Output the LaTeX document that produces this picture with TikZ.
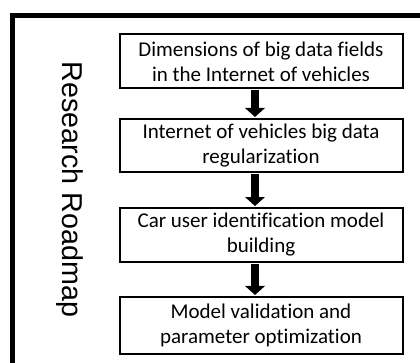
\documentclass[tikz,border=0pt]{standalone}
\usepackage{fontspec}
\setmainfont[Ligatures=NoCommon]{Carlito}
\newfontfamily\titlefont{Liberation Sans}
\usetikzlibrary{arrows.meta}
\begin{document}
\begin{tikzpicture}[x=1pt,y=-1pt,
  stepbox/.style={draw=black, line width=2pt, fill=white, minimum width=283pt,
    align=center, inner sep=0pt, font=\fontsize{21}{25}\selectfont},
  flowarrow/.style={line width=8pt, -{Triangle[width=20pt,length=9pt,line width=0pt]}},
  frameline/.style={line width=5pt, line join=miter}]
\useasboundingbox (0,0) rectangle (420,362);
\clip (0,0) rectangle (420,362);
\fill[white] (0,0) rectangle (420,362);
\draw[frameline] (12.5,400) -- (12.5,15.5) -- (440,15.5);
\node[font=\titlefont\fontsize{28.7}{34}\selectfont, rotate=-90, anchor=base] (title) at (62,189.5) {Research Roadmap};
\node[stepbox, minimum height=54pt] (b1) at (261,61.3) {Dimensions of big data fields\\in the Internet of vehicles};
\node[stepbox, minimum height=53.5pt] (b2) at (261,145.7) {Internet of vehicles big data\\regularization};
\node[stepbox, minimum height=54pt] (b3) at (261,235) {Car user identification model\\building};
\node[stepbox, minimum height=57.5pt] (b4) at (261,325.7) {Model validation and\\parameter optimization};
\draw[flowarrow] ([xshift=-6pt,yshift=-1pt]b1.south) -- ([xshift=-6pt,yshift=1pt]b2.north);
\draw[flowarrow] ([xshift=-6pt,yshift=-1pt]b2.south) -- ([xshift=-6pt,yshift=1pt]b3.north);
\draw[flowarrow] ([xshift=-6pt,yshift=-1pt]b3.south) -- ([xshift=-6pt,yshift=1pt]b4.north);
\end{tikzpicture}
\end{document}
